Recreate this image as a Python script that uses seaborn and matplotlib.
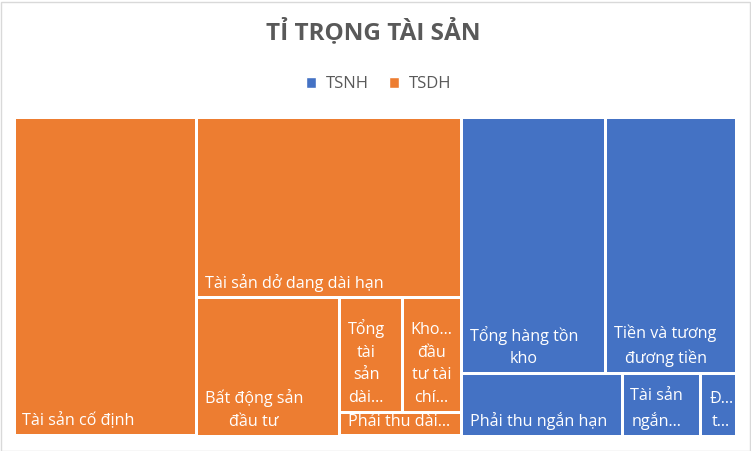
import matplotlib
matplotlib.use("Agg")
import matplotlib.pyplot as plt
from matplotlib.patches import Rectangle, Patch
import seaborn as sns

sns.set_theme(style="white")
plt.rcParams['font.family'] = ['Open Sans', 'DejaVu Sans']

# data (relative values)
groups = ["TSDH", "TSNH"]
group_colors = {"TSNH": "#4472C4", "TSDH": "#ED7D31"}

tsdh_names = ["Tài sản cố định", "Tài sản dở dang dài hạn", "Bất động sản đầu tư",
              "Tổng tài sản dài hạn khác", "Khoản đầu tư tài chính dài hạn", "Phải thu dài hạn"]
tsdh_values = [582, 480, 197, 72, 68, 29]
tsdh_shown = ["Tài sản cố định", "Tài sản dở dang dài hạn", "Bất động sản\nđầu tư",
              "Tổng\ntài\nsản\ndài...", "Kho...\nđầu\ntư tài\nchí...", "Phải thu dài..."]

tsnh_names = ["Tổng hàng tồn kho", "Tiền và tương đương tiền", "Phải thu ngắn hạn",
              "Tài sản ngắn hạn khác", "Đầu tư tài chính ngắn hạn"]
tsnh_values = [371, 334, 100, 49, 22]
tsnh_shown = ["Tổng hàng tồn\nkho", "Tiền và tương\nđương tiền", "Phải thu ngắn hạn",
              "Tài sản\nngắn...", "Đ...\nt..."]


def worst(row, side):
    s = sum(row)
    return max(max(side * side * r / (s * s), s * s / (side * side * r)) for r in row)


def squarify(vals, x, y, dx, dy):
    # vals must be sorted descending; returns list of (x, y, w, h)
    total = sum(vals)
    areas = [v * dx * dy / total for v in vals]
    rects = []
    while areas:
        side = min(dx, dy)
        row = [areas[0]]
        i = 1
        while i < len(areas) and worst(row + [areas[i]], side) <= worst(row, side):
            row.append(areas[i])
            i += 1
        s = sum(row)
        if dx >= dy:
            w = s / dy
            yy = y
            for a in row:
                rects.append((x, yy, w, a / w))
                yy += a / w
            x += w
            dx -= w
        else:
            h = s / dx
            xx = x
            for a in row:
                rects.append((xx, y, a / h, h))
                xx += a / h
            y += h
            dy -= h
        areas = areas[i:]
    return rects


W, H = 722, 319
gap = 3

fig = plt.figure(figsize=(7.51, 4.51), dpi=100)
ax = fig.add_axes([(14 - 1.5) / 751, (451 - 436 - 1.5) / 451, (W + 3) / 751, (H + 3) / 451])
ax.set_xlim(-1.5, W + 1.5)
ax.set_ylim(H + 1.5, -1.5)
ax.axis("off")

group_vals = {"TSDH": tsdh_values, "TSNH": tsnh_values}
group_shown = {"TSDH": tsdh_shown, "TSNH": tsnh_shown}
outer = squarify([sum(group_vals[g]) for g in groups], 0, 0, W, H)

for g, (gx, gy, gw, gh) in zip(groups, outer):
    inner = squarify(group_vals[g], gx, gy, gw, gh)
    for (rx, ry, rw, rh), label in zip(inner, group_shown[g]):
        ax.add_patch(Rectangle((rx + gap / 2, ry + gap / 2), rw - gap, rh - gap,
                               facecolor=group_colors[g], edgecolor="none"))
        ax.annotate(label, xy=(rx + gap / 2, ry + rh - gap / 2), xytext=(5, 3.5),
                    textcoords="offset points", ha="left", va="bottom",
                    multialignment="center", color="white", fontsize=11.6,
                    linespacing=1.56)

fig.text(0.497, 0.93, "TỈ TRỌNG TÀI SẢN", ha="center", va="center",
         fontsize=17.5, fontweight="bold", color="#595959")

handles = [Patch(facecolor=group_colors[g], label=g) for g in ["TSNH", "TSDH"]]
fig.legend(handles=handles, loc="center", bbox_to_anchor=(0.504, 0.813), ncol=2,
           frameon=False, fontsize=12, handlelength=0.6, handleheight=0.6,
           handletextpad=0.6, columnspacing=1.2, labelcolor="#595959")

fig.add_artist(Rectangle((0.5 / 751, 0.5 / 451), 749 / 751, 449 / 451,
                         transform=fig.transFigure, facecolor="none",
                         edgecolor="#D9D9D9", linewidth=1))

fig.savefig("out.png", dpi=100)
